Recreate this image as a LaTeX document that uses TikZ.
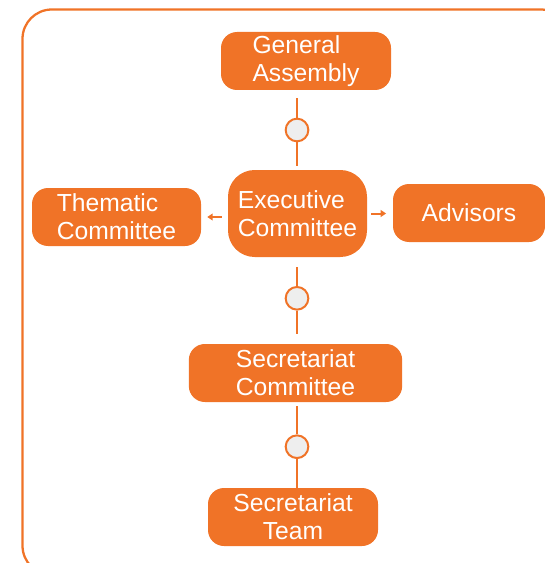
\documentclass[tikz,border=0pt]{standalone}
\usepackage{fontspec}
\setmainfont{Liberation Sans}
\usepackage{tikz}
\usetikzlibrary{arrows.meta}
\definecolor{orgfill}{HTML}{F07327}
\definecolor{dotfill}{HTML}{EEEEEE}
\tikzset{
  box/.style={fill=orgfill, text=white, rounded corners=12pt, minimum height=43.5pt, inner sep=0pt, font=\fontsize{18.5}{21}\selectfont},
  link/.style={draw=orgfill, line width=1.5pt},
  dot/.style={circle, draw=orgfill, fill=dotfill, line width=1.5pt, minimum size=17pt, inner sep=0pt},
  arr/.style={draw=orgfill, line width=1.5pt, -{Triangle[length=4pt,width=5pt]}}
}
\begin{document}
\begin{tikzpicture}[x=0.75pt,y=0.75pt,yscale=-1,xscale=1]
\useasboundingbox (0,0) rectangle (545,563);
\clip (0,0) rectangle (545,563);
\draw [draw=orgfill, line width=1.7pt, rounded corners=22pt] (22.5,9.5) rectangle (570,575);
\node [box, minimum width=127.5pt, align=left] (ga) at (306,61) {General\\Assembly};
\node [box, minimum width=104.25pt, minimum height=65.25pt, rounded corners=20pt, align=left] (ec) at (297.5,213.5) {Executive\\Committee};
\node [box, minimum width=126.75pt, align=left] (tc) at (116.5,217) {Thematic\\Committee};
\node [box, minimum width=114pt] (adv) at (469,213) {Advisors};
\node [box, minimum width=160pt, align=center] (sc) at (295.5,373) {Secretariat\\Committee};
\node [box, minimum width=127.5pt, align=center] (st) at (293,517) {Secretariat\\Team};
\node [dot] (c1) at (297,130) {};
\node [dot] (c2) at (297,298.3) {};
\node [dot] (c3) at (297,446.7) {};
% vertical links
\draw [link, shorten >=6pt] (c1.north) -- (c1 |- ga.south);
\draw [link, shorten >=3pt] (c1.south) -- (c1 |- ec.north);
\draw [link, shorten >=7.5pt] (c2.north) -- (c2 |- ec.south);
\draw [link, shorten >=7.5pt] (c2.south) -- (c2 |- sc.north);
\draw [link, shorten >=3pt] (c3.north) -- (c3 |- sc.south);
\draw [link] (c3.south) -- (c3 |- st.north);
% side arrows
\draw [arr, shorten <=4.5pt, shorten >=4.5pt] (ec.west |- tc.east) -- (tc.east);
\draw [arr, shorten <=3pt, shorten >=5pt] (ec.east) -- (ec.east -| adv.west);
\end{tikzpicture}
\end{document}
